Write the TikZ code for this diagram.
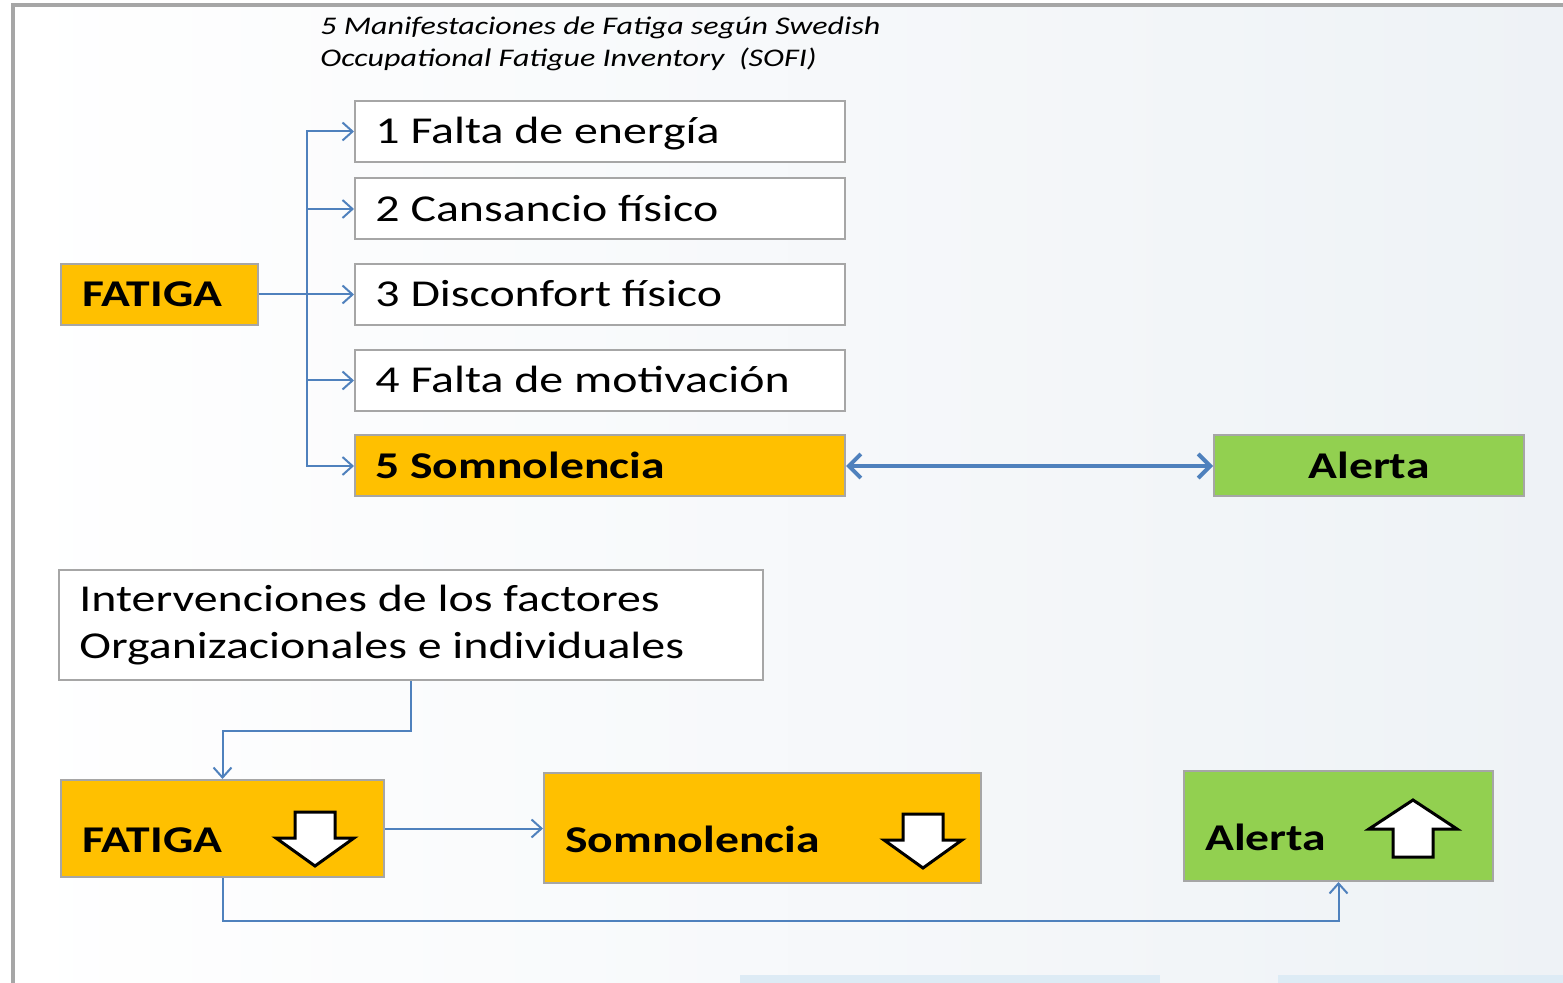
\documentclass[tikz,border=0pt]{standalone}
\usepackage{fontspec}
\setmainfont[FakeStretch=1.26]{Carlito}
\usetikzlibrary{arrows.meta}
\definecolor{orng}{HTML}{FFC000}
\definecolor{grn}{HTML}{92D050}
\definecolor{blu}{HTML}{4F81BD}
\definecolor{edge}{HTML}{A6A6A6}
\definecolor{bgr}{HTML}{EEF2F6}
\definecolor{bar}{HTML}{DDEBF5}
\tikzset{
 box/.style={draw=edge,line width=1pt,minimum height=30.5pt,inner sep=0pt},
 txt/.style={anchor=base west,inner sep=0pt,font=\fontsize{19}{23.5}\selectfont},
 btxt/.style={anchor=base west,inner sep=0pt,font=\fontsize{18.9}{22}\selectfont\bfseries},
 ttl/.style={anchor=west,inner sep=0pt,align=left,font=\fontsize{12.7}{16}\selectfont\itshape},
 ln/.style={draw=blu,line width=1pt,-{Straight Barb[length=5pt,width=9pt]}},
 dnarr/.pic={\draw[fill=white,line width=1.5pt](-20,0)--(20,0)--(20,26)--(39,26)--(0,54)--(-39,26)--(-20,26)--cycle;},
 uparr/.pic={\draw[fill=white,line width=1.5pt](0,0)--(44,29)--(20,29)--(20,57)--(-20,57)--(-20,29)--(-44,29)--cycle;}
}
\begin{document}
\begin{tikzpicture}[x=0.5pt,y=-0.5pt]
\useasboundingbox(0,0) rectangle (1563,983);
\shade[left color=white,right color=bgr](13,5) rectangle (1563,983);
\fill[bar](740,975) rectangle (1160,983);
\fill[bar](1278,975) rectangle (1563,983);
\draw[edge,line width=1.8pt](13,983)--(13,5)--(1563,5);
\node[ttl](ttl) at (320,44){5 Manifestaciones de Fatiga según Swedish\\Occupational Fatigue Inventory~~(SOFI)};
% manifestaciones
\draw(159.5,294.5)node[box,fill=orng,minimum width=98.5pt](fat){} (82,307)node[btxt](fatl){FATIGA};
\foreach \i/\y/\t in {1/131.5/Falta de energía,2/209/Cansancio físico,3/294.5/Disconfort físico,4/380.5/Falta de motivación}
 \draw(600,\y)node[box,fill=white,minimum width=245pt](m\i){} (375,\y+12.5)node[txt](l\i){\i\ \t};
\draw(600,466)node[box,fill=orng,minimum width=245pt](m5){} (375,478.5)node[btxt](l5){5 Somnolencia};
\draw(1369,466)node[box,fill=grn,minimum width=155pt](al){} (1369,478.5)node[btxt,anchor=base](all){Alerta};
\foreach \i in {1,...,5} \draw[ln](fat.east)--++(48,0)|-(m\i.west);
\draw[ln,line width=2pt,{Straight Barb[length=6pt,width=12pt]}-{Straight Barb[length=6pt,width=12pt]}](m5.east)--(al.west);
% intervenciones
\draw(411,625)node[box,fill=white,minimum width=352pt,minimum height=55pt](int){} (79,625)node[txt,anchor=west,align=left](intl){Intervenciones de los factores\\Organizacionales e individuales};
\draw(222.5,828.5)node[box,fill=orng,minimum width=161.5pt,minimum height=48.5pt](fb){} (82,852)node[btxt](fbl){FATIGA};
\draw(762.5,828)node[box,fill=orng,minimum width=218.5pt,minimum height=55pt](sb){} (565,852)node[btxt](sbl){Somnolencia};
\draw(1338.5,826)node[box,fill=grn,minimum width=154.5pt,minimum height=55pt](ab){} (1205,850)node[btxt](abl){Alerta};
\pic at (315,812){dnarr};
\pic at (923,814){dnarr};
\pic at (1413,800){uparr};
\draw[ln](int.south)--++(0,50)-|(fb.north);
\draw[ln](fb.east)--(fb.east-|sb.west);
\draw[ln](fb.south)--++(0,43)-|(ab.south);
\end{tikzpicture}
\end{document}
